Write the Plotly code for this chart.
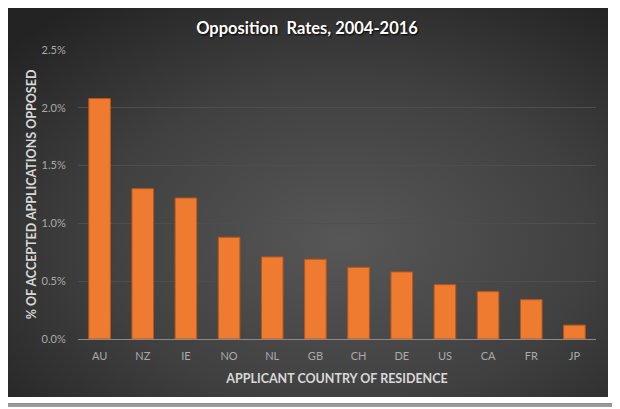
import base64
import plotly.graph_objects as go

countries = ["AU", "NZ", "IE", "NO", "NL", "GB", "CH", "DE", "US", "CA", "FR", "JP"]
rates = [0.0208, 0.0130, 0.0122, 0.0088, 0.0071, 0.0069, 0.0062, 0.0058, 0.0047, 0.0041, 0.0034, 0.0012]
y_ticks = [0, 0.005, 0.010, 0.015, 0.020, 0.025]
y_labels = ["0.0%", "0.5%", "1.0%", "1.5%", "2.0%", "2.5%"]

# the page body adds an 8px offset, so the figure is drawn 8px smaller
OFF = 8
W, H = 620 - OFF, 409 - OFF
L, R, T, B = 78 - OFF, 24, 50 - OFF, 70
pw, ph = W - L - R, H - T - B

def px_x(p):
    return (p - OFF - L) / pw

def px_y(p):
    return (H - B - (p - OFF)) / ph

svg = (
    '<svg xmlns="http://www.w3.org/2000/svg" width="601" height="389" viewBox="0 0 601 389" preserveAspectRatio="none">'
    '<defs><radialGradient id="g" cx="0.56" cy="0.6" r="0.75" gradientUnits="objectBoundingBox">'
    '<stop offset="0" stop-color="#575757"/><stop offset="0.55" stop-color="#404040"/>'
    '<stop offset="1" stop-color="#232323"/></radialGradient></defs>'
    '<rect width="601" height="389" fill="url(#g)"/></svg>'
)
src = "data:image/svg+xml;base64," + base64.b64encode(svg.encode()).decode()

fig = go.Figure(
    go.Bar(
        x=countries,
        y=rates,
        marker=dict(color="#EE7B30", line=dict(color="#B8561A", width=1)),
        width=0.5,
    )
)

shapes = [
    dict(type="rect", xref="paper", yref="paper", x0=px_x(3), x1=px_x(618), y0=px_y(407), y1=px_y(404),
         fillcolor="#9a9a9a", line=dict(width=0), layer="below"),
    dict(type="rect", xref="paper", yref="paper", x0=px_x(615), x1=px_x(618), y0=px_y(407), y1=px_y(3),
         fillcolor="#9a9a9a", line=dict(width=0), layer="below"),
    dict(type="rect", xref="paper", yref="paper", x0=px_x(0.5), x1=px_x(614.5), y0=px_y(403.5), y1=px_y(0.5),
         fillcolor="rgba(0,0,0,0)", line=dict(color="#8c8c8c", width=1), layer="below"),
]

fig.update_layout(
    width=W, height=H,
    margin=dict(l=L, r=R, t=T, b=B),
    paper_bgcolor="white",
    plot_bgcolor="rgba(0,0,0,0)",
    showlegend=False,
    images=[dict(source=src, xref="paper", yref="paper", x=px_x(7), y=px_y(8),
                 sizex=(608 - 7) / pw, sizey=(397 - 8) / ph, xanchor="left", yanchor="top",
                 sizing="stretch", layer="below")],
    shapes=shapes,
    title=dict(
        text="Opposition  Rates, 2004-2016",
        x=(307 - OFF) / W, xref="container", xanchor="center",
        y=1 - (28 - OFF) / H, yref="container", yanchor="middle",
        font=dict(family="Lato", size=16.5, color="white", weight="bold",
                  shadow="1px 1px 2px #000000"),
    ),
    font=dict(family="Lato"),
)

fig.update_xaxes(
    showgrid=False,
    showline=True, linecolor="#8a8a8a", linewidth=1,
    ticks="outside", ticklen=7, tickcolor="rgba(0,0,0,0)",
    tickfont=dict(size=11, color="#aaaaaa"),
    title=dict(text="APPLICANT COUNTRY OF RESIDENCE", standoff=13,
               font=dict(size=12.5, color="#d9d9d9", weight="bold")),
)
fig.update_yaxes(
    range=[0, 0.025],
    tickvals=y_ticks, ticktext=y_labels,
    showgrid=True, gridcolor="#4e4e4e", gridwidth=1,
    zeroline=False,
    ticks="outside", ticklen=9, tickcolor="rgba(0,0,0,0)",
    tickfont=dict(size=11, color="#aaaaaa"),
    title=dict(text="% OF ACCEPTED APPLICATIONS OPPOSED", standoff=2,
               font=dict(size=12.5, color="#d9d9d9", weight="bold")),
)

fig.write_html("out.html")
